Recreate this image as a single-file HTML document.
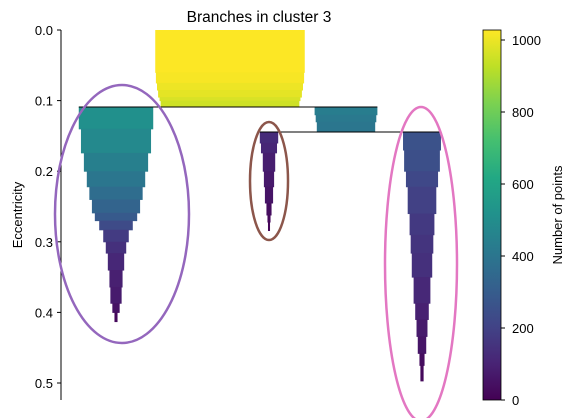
<!DOCTYPE html>
<html><head><meta charset="utf-8"><style>
html,body{margin:0;padding:0;background:#fff}
svg{display:block;font-family:"Liberation Sans","DejaVu Sans",sans-serif}
</style></head><body>
<svg id="chart" width="576" height="418" viewBox="0 0 576 418">
<defs>
<linearGradient id="vir" x1="0" y1="1" x2="0" y2="0">
<stop offset="0" stop-color="#440154"/><stop offset="0.1" stop-color="#482475"/><stop offset="0.2" stop-color="#414487"/><stop offset="0.3" stop-color="#355f8d"/><stop offset="0.4" stop-color="#2a788e"/><stop offset="0.5" stop-color="#21918c"/><stop offset="0.6" stop-color="#22a884"/><stop offset="0.7" stop-color="#44bf70"/><stop offset="0.8" stop-color="#7ad151"/><stop offset="0.9" stop-color="#bddf26"/><stop offset="1" stop-color="#fde725"/>
</linearGradient>
</defs>
<text x="259" y="22" font-size="15.5" text-anchor="middle">Branches in cluster 3</text>
<g id="marks"></g>
<g id="yaxis"></g>
<text transform="translate(22,215) rotate(-90)" font-size="13" text-anchor="middle">Eccentricity</text>
<ellipse cx="122" cy="214" rx="67" ry="129" fill="none" stroke="#9467bd" stroke-width="2.5"/>
<ellipse cx="269" cy="181" rx="19" ry="59" fill="none" stroke="#8c564b" stroke-width="2.5"/>
<ellipse cx="421" cy="264" rx="36" ry="157" fill="none" stroke="#e377c2" stroke-width="2.5"/>
<rect x="483" y="30" width="18" height="370" fill="url(#vir)" stroke="#000" stroke-width="0.8"/>
<g id="cbticks"></g>
<text transform="translate(562,215) rotate(-90)" font-size="13" text-anchor="middle">Number of points</text>
</svg>
<script>
// y-axis ticks
const yTicks = [0.0, 0.1, 0.2, 0.3, 0.4, 0.5];
const yTickLabels = ["0.0", "0.1", "0.2", "0.3", "0.4", "0.5"];
const cbTicks = [0, 200, 400, 600, 800, 1000];
const cbTickLabels = ["0", "200", "400", "600", "800", "1000"];
// branches: levels as [eccentricity, count]
const rootLevels = [[0,1024],[0.06,1015],[0.075,1000],[0.085,985],[0.095,965],[0.1,950]];
const rootEnd = 0.109;
const leftLevels = [[0.109,510],[0.14,480],[0.174,440],[0.2,400],[0.222,365],[0.24,330],[0.259,290],[0.27,230],[0.283,175],[0.3,140],[0.316,112],[0.34,90],[0.364,77],[0.387,50],[0.40,21]];
const leftEnd = 0.413;
const upperRightLevels = [[0.109,430],[0.12,415],[0.13,400]];
const upperRightEnd = 0.1445;
const middleLevels = [[0.1445,126],[0.16,110],[0.174,85],[0.2,70],[0.222,56],[0.245,35],[0.262,21],[0.272,14]];
const middleEnd = 0.284;
const rightLevels = [[0.1445,260],[0.17,245],[0.2,220],[0.222,196],[0.26,170],[0.29,155],[0.316,140],[0.35,115],[0.387,93],[0.41,75],[0.434,58],[0.458,35],[0.475,22]];
const rightEnd = 0.497;

const NS='http://www.w3.org/2000/svg';
const y = e => 30 + e*706;
const w = c => c*0.146;
const cb = v => 400 - v*0.36;
const stops=["#440154","#482475","#414487","#355f8d","#2a788e","#21918c","#22a884","#44bf70","#7ad151","#bddf26","#fde725"];
function hex(h){return [1,3,5].map(i=>parseInt(h.substr(i,2),16));}
function vir(t){t=Math.max(0,Math.min(1,t));const f=t*10,i=Math.min(9,Math.floor(f)),r=f-i;const a=hex(stops[i]),b=hex(stops[i+1]);return 'rgb('+a.map((v,k)=>Math.round(v+(b[k]-v)*r)).join(',')+')';}
const marks=document.getElementById('marks');
function branch(name,cx,levels,end){
  const g=document.createElementNS(NS,'g');
  
  
  levels.forEach((lv,i)=>{
    const e0=lv[0], e1=i+1<levels.length?levels[i+1][0]:end;
    const r=document.createElementNS(NS,'rect');
    r.setAttribute('x',cx-w(lv[1])/2);r.setAttribute('width',w(lv[1]));
    r.setAttribute('y',y(e0));r.setAttribute('height',y(e1)-y(e0)+0.5);
    r.setAttribute('fill',vir(lv[1]/1025));
    
    
    g.appendChild(r);
  });
  marks.appendChild(g);
}
branch('root-branch',230,rootLevels,rootEnd);
branch('left-branch',116,leftLevels,leftEnd);
branch('upper-right-branch',346,upperRightLevels,upperRightEnd);
branch('middle-branch',269,middleLevels,middleEnd);
branch('right-branch',422,rightLevels,rightEnd);
function hline(name,e,x1,x2){
  const l=document.createElementNS(NS,'line');
  l.setAttribute('x1',x1);l.setAttribute('x2',x2);l.setAttribute('y1',y(e));l.setAttribute('y2',y(e));
  l.setAttribute('stroke','#000');l.setAttribute('stroke-width','1');
  
  
  marks.appendChild(l);
}
hline('split-line-1',rootEnd,116-w(leftLevels[0][1])/2,346+w(upperRightLevels[0][1])/2);
hline('split-line-2',upperRightEnd,269-w(middleLevels[0][1])/2,422+w(rightLevels[0][1])/2);
const ya=document.getElementById('yaxis');
const sp=document.createElementNS(NS,'line');
sp.setAttribute('x1',61);sp.setAttribute('x2',61);sp.setAttribute('y1',30);sp.setAttribute('y2',400);sp.setAttribute('stroke','#000');sp.setAttribute('stroke-width','1');


ya.appendChild(sp);
yTicks.forEach((t,i)=>{
  const l=document.createElementNS(NS,'line');
  l.setAttribute('x1',57);l.setAttribute('x2',61);l.setAttribute('y1',y(t));l.setAttribute('y2',y(t));l.setAttribute('stroke','#000');
  
  
  ya.appendChild(l);
  const tx=document.createElementNS(NS,'text');
  tx.setAttribute('x',53);tx.setAttribute('y',y(t)+5);tx.setAttribute('font-size','13');tx.setAttribute('text-anchor','end');
  tx.textContent=yTickLabels[i];
  
  
  ya.appendChild(tx);
});
const cg=document.getElementById('cbticks');
cbTicks.forEach((t,i)=>{
  const l=document.createElementNS(NS,'line');
  l.setAttribute('x1',501);l.setAttribute('x2',505);l.setAttribute('y1',cb(t));l.setAttribute('y2',cb(t));l.setAttribute('stroke','#000');
  
  
  cg.appendChild(l);
  const tx=document.createElementNS(NS,'text');
  tx.setAttribute('x',512);tx.setAttribute('y',cb(t)+5);tx.setAttribute('font-size','13');
  tx.textContent=cbTickLabels[i];
  
  
  cg.appendChild(tx);
});
</script>
</body></html>
